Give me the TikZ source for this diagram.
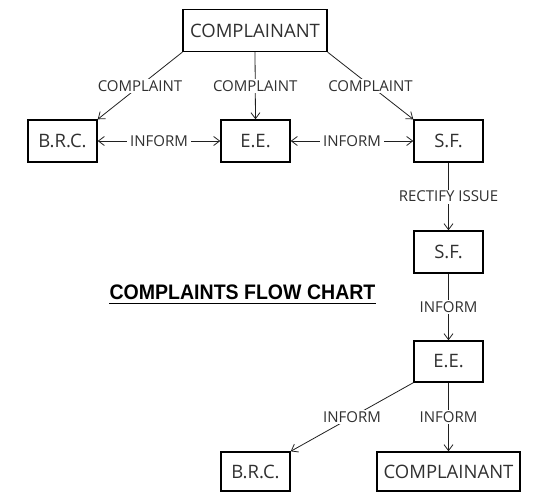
\documentclass[tikz,border=0pt]{standalone}
\usepackage{fontspec}
\setmainfont{Open Sans}
\newfontfamily\titlefont[FakeStretch=0.93]{Liberation Sans}
\usetikzlibrary{arrows.meta}
\definecolor{txt}{HTML}{303030}
\definecolor{ln}{HTML}{202020}
\tikzset{
  box/.style={draw=black, line width=1.4pt, inner sep=0pt, minimum width=69pt, minimum height=42pt,
    text=txt, font=\fontsize{18.5}{20}\selectfont},
  wbox/.style={box, minimum width=144pt},
  conn/.style={draw=ln, line width=0.8pt, -{Straight Barb[length=6pt,width=9pt]}},
  bconn/.style={draw=ln, line width=0.8pt, {Straight Barb[length=6pt,width=9pt]}-{Straight Barb[length=6pt,width=9pt]}},
  lbl/.style={fill=white, inner xsep=3pt, inner ysep=1.5pt, text=txt, font=\fontsize{15}{16}\selectfont},
}
\begin{document}
\begin{tikzpicture}[x=1pt,y=-1pt]
\useasboundingbox (0,0) rectangle (535,493);
\node[wbox] (ctop) at (255,30.5) {COMPLAINANT};
\node[box] (brc1) at (62.5,141) {B.R.C.};
\node[box] (ee1) at (255.5,141) {E.E.};
\node[box] (sf1) at (448.5,141) {S.F.};
\node[box] (sf2) at (448.5,252) {S.F.};
\node[box, minimum height=41pt] (ee2) at (448.5,361.5) {E.E.};
\node[box, minimum height=39pt] (brc2) at (255.5,471.5) {B.R.C.};
\node[wbox, minimum width=143pt, minimum height=39pt] (cbot) at (448.5,471.5) {COMPLAINANT};

\draw[conn] (ctop.south west) -- node[lbl] {COMPLAINT} (brc1.north east);
\draw[conn] (ctop.south) -- node[lbl] {COMPLAINT} (ee1.north);
\draw[conn] (ctop.south east) -- node[lbl] {COMPLAINT} (sf1.north west);
\draw[bconn] (brc1.east) -- node[lbl] {INFORM} (ee1.west);
\draw[bconn] (ee1.east) -- node[lbl] {INFORM} (sf1.west);
\draw[conn] (sf1.south) -- node[lbl] {RECTIFY ISSUE} (sf2.north);
\draw[conn] (sf2.south) -- node[lbl] {INFORM} (ee2.north);
\draw[conn] (ee2.south west) -- node[lbl] {INFORM} (brc2.north east);
\draw[conn] (ee2.south) -- node[lbl] {INFORM} (cbot.north);

\node[anchor=base, inner sep=0pt, font=\titlefont\bfseries\fontsize{21}{24}\selectfont] (title) at (242.5,299) {COMPLAINTS FLOW CHART};
\draw[line width=1.8pt] ([yshift=-4.5pt]title.base west) -- ([yshift=-4.5pt]title.base east);
\end{tikzpicture}
\end{document}
